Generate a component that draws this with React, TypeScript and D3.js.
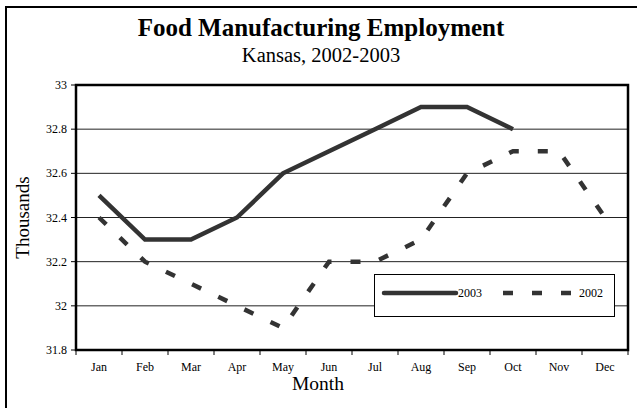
import React from 'react';
import * as d3 from 'd3';

const months = ['Jan', 'Feb', 'Mar', 'Apr', 'May', 'Jun', 'Jul', 'Aug', 'Sep', 'Oct', 'Nov', 'Dec'];
const values2003 = [32.5, 32.3, 32.3, 32.4, 32.6, 32.7, 32.8, 32.9, 32.9, 32.8];
const values2002 = [32.4, 32.2, 32.1, 32.0, 31.9, 32.2, 32.2, 32.3, 32.6, 32.7, 32.7, 32.4];
const yTicks = [31.8, 32, 32.2, 32.4, 32.6, 32.8, 33];
const yTickLabels = ['31.8', '32', '32.2', '32.4', '32.6', '32.8', '33'];

const FONT = '"Liberation Serif", "Times New Roman", serif';
const LINE = '#333333';

const App = () => {
  // plot area
  const margin = { top: 85, right: 9, bottom: 58, left: 76 };
  const W = 637;
  const H = 408;

  const x = d3.scaleBand<string>()
    .domain(months)
    .range([margin.left, W - margin.right])
    .padding(0);

  const y = d3.scaleLinear()
    .domain([31.8, 33])
    .range([H - margin.bottom, margin.top]);

  const line = d3.line<number>()
    .x((_, i) => (x(months[i]) as number) + x.bandwidth() / 2)
    .y(d => y(d));

  const left = margin.left;
  const right = W - margin.right;
  const top = margin.top;
  const bottom = H - margin.bottom;
  const boundaries = months.map(m => x(m) as number).concat([right]);

  return (
    <svg width={W} height={H} style={{ position: 'absolute', left: 0, top: 0 }} fontFamily={FONT}>
      <rect x={0} y={0} width={W} height={H} fill="#fff" />
      {/* outer frame, cut off at right and bottom */}
      <rect x={6} y={7} width={W + 10} height={H + 10} fill="none" stroke="#000" strokeWidth={2} />

      <text x={321} y={36} textAnchor="middle" fontSize={25} fontWeight="bold">Food Manufacturing Employment</text>
      <text x={321} y={62} textAnchor="middle" fontSize={20.5}>Kansas, 2002-2003</text>

      {/* gridlines */}
      {yTicks.slice(1, -1).map(t => (
        <line key={t} x1={left} x2={right} y1={y(t)} y2={y(t)} stroke="#222" strokeWidth={1} />
      ))}

      {/* y ticks + labels */}
      {yTicks.map((t, i) => (
        <g key={t}>
          <line x1={left - 5} x2={left} y1={y(t)} y2={y(t)} stroke="#000" strokeWidth={1} />
          <text x={67} y={y(t) + 4} textAnchor="end" fontSize={12}>{yTickLabels[i]}</text>
        </g>
      ))}

      {/* x ticks + labels */}
      {boundaries.map((b, i) => (
        <line key={i} x1={b} x2={b} y1={bottom} y2={bottom + 5} stroke="#000" strokeWidth={1} />
      ))}
      {months.map(m => (
        <text key={m} x={(x(m) as number) + x.bandwidth() / 2} y={371} textAnchor="middle" fontSize={12}>{m}</text>
      ))}

      <text transform={`translate(29,${(top + bottom) / 2}) rotate(-90)`} textAnchor="middle" fontSize={19}>Thousands</text>
      <text x={318} y={390} textAnchor="middle" fontSize={19.5}>Month</text>

      {/* series */}
      <path d={line(values2002) || ''} fill="none" stroke={LINE} strokeWidth={4.5} strokeDasharray="10,19" />
      <path d={line(values2003) || ''} fill="none" stroke={LINE} strokeWidth={4.5} strokeLinejoin="miter" />

      {/* plot border */}
      <rect x={left} y={top} width={right - left} height={bottom - top} fill="none" stroke="#000" strokeWidth={2.5} />

      {/* legend */}
      <rect x={374.5} y={274.5} width={240} height={42} fill="#fff" stroke="#000" strokeWidth={1} />
      <line x1={384} x2={456} y1={293} y2={293} stroke={LINE} strokeWidth={4.5} strokeLinecap="round" />
      <text x={458} y={297} fontSize={12}>2003</text>
      <line x1={503} x2={572} y1={293} y2={293} stroke={LINE} strokeWidth={4.5} strokeDasharray="10,19" />
      <text x={579} y={297} fontSize={12}>2002</text>
    </svg>
  );
};

export default App;
